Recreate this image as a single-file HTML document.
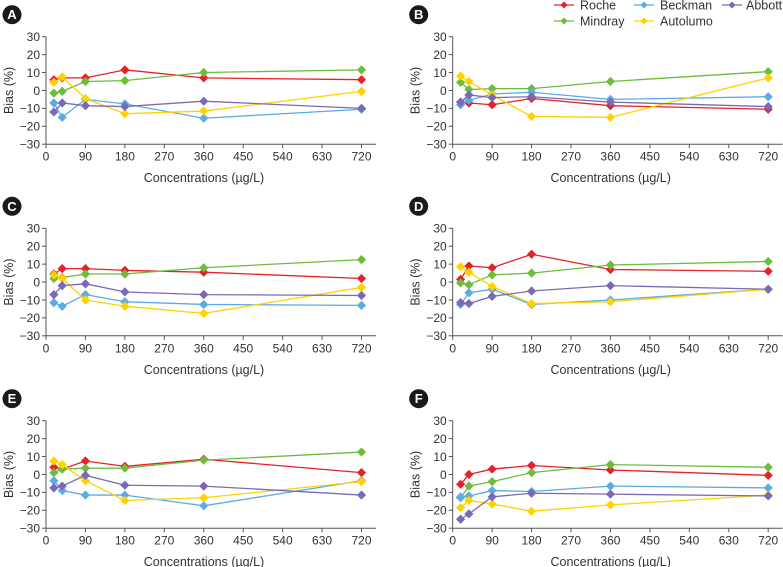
<!DOCTYPE html>
<html><head><meta charset="utf-8"><style>
html,body{margin:0;padding:0;background:#fff;}
svg{display:block;font-family:"Liberation Sans",Arial,sans-serif;}
</style></head><body>
<svg id="chart" width="783" height="567" viewBox="0 0 783 567" xmlns="http://www.w3.org/2000/svg"></svg>
<script>
const concentrations = [18, 37, 90, 180, 360, 720];
const xTicks = [0, 90, 180, 270, 360, 450, 540, 630, 720];
const yTicks = [30, 20, 10, 0, -10, -20, -30];
const seriesNames = ["Roche", "Mindray", "Beckman", "Autolumo", "Abbott"];
const seriesColors = ["#e8202a", "#6cbd3c", "#5cacE4", "#ffd200", "#7a6ab6"];
const panelLabels = ["A", "B", "C", "D", "E", "F"];
const rocheA = [6, 7, 7, 11.5, 7, 6];
const mindrayA = [-1.5, -0.5, 5, 5.5, 10, 11.5];
const beckmanA = [-7, -15, -5, -7.5, -15.5, -10.5];
const autolumoA = [4.5, 7.5, -4.5, -13, -11.5, -0.5];
const abbottA = [-12, -7, -8.5, -9, -6, -10];
const rocheB = [-6.5, -7, -8, -4.5, -8.5, -10.5];
const mindrayB = [4.5, 0.5, 1, 1, 5, 10.5];
const beckmanB = [-8, -5.5, -2, -1, -5, -3.5];
const autolumoB = [8, 5, -2.5, -14.5, -15, 7];
const abbottB = [-6.5, -2.5, -4, -3.5, -6.5, -9];
const rocheC = [4.5, 7.5, 7.5, 6.5, 5.5, 2];
const mindrayC = [2, 2.5, 4.5, 4.5, 8, 12.5];
const beckmanC = [-11.5, -13.5, -7, -11, -12.5, -13];
const autolumoC = [4, 2, -10, -13.5, -17.5, -3];
const abbottC = [-7, -2, -1, -5.5, -7, -7.5];
const rocheD = [1.5, 9, 8, 15.5, 7, 6];
const mindrayD = [-0.5, -1.5, 4, 5, 9.5, 11.5];
const beckmanD = [-12.5, -6, -4, -12.5, -10, -4];
const autolumoD = [8.5, 5.5, -2.5, -12, -11, -4];
const abbottD = [-11.5, -12, -8, -5, -2, -4];
const rocheE = [4, 3, 7.5, 4.5, 8.5, 1];
const mindrayE = [1, 3, 3.5, 3.5, 8, 12.5];
const beckmanE = [-3.5, -9, -11.5, -11.5, -17.5, -3.5];
const autolumoE = [7.5, 5.5, -3.5, -14.5, -13, -4];
const abbottE = [-7.5, -6.5, -0.5, -6, -6.5, -11.5];
const rocheF = [-5.5, 0, 3, 5, 2.5, -0.5];
const mindrayF = [-13, -6.5, -4, 1, 5.5, 4];
const beckmanF = [-12.5, -12, -9, -9.5, -6.5, -7.5];
const autolumoF = [-18.5, -14.5, -16.5, -20.5, -17, -11.5];
const abbottF = [-25, -22, -12.5, -10.5, -11, -12];
const panelData = [
  [rocheA, mindrayA, beckmanA, autolumoA, abbottA],
  [rocheB, mindrayB, beckmanB, autolumoB, abbottB],
  [rocheC, mindrayC, beckmanC, autolumoC, abbottC],
  [rocheD, mindrayD, beckmanD, autolumoD, abbottD],
  [rocheE, mindrayE, beckmanE, autolumoE, abbottE],
  [rocheF, mindrayF, beckmanF, autolumoF, abbottF]
];
const NS = "http://www.w3.org/2000/svg";
const svg = document.getElementById("chart");
function mk(tag, attrs, parent, text) {
  const e = document.createElementNS(NS, tag);
  for (const k in attrs) e.setAttribute(k, attrs[k]);
  if (text !== undefined) e.textContent = text;
  (parent || svg).appendChild(e);
  return e;
}
function diamond(g, x, y, c, r) {
  r = r || 4.6;
  return mk("polygon", {points: `${x},${y-r} ${x+r},${y} ${x},${y+r} ${x-r},${y}`, fill: c}, g);
}
const colX = [46, 452.7];
const rowY = [36.7, 228.3, 420.7];
const pw = 315.5, ph = 107.5;
panelData.forEach((data, i) => {
  const x0 = colX[i % 2], y0 = rowY[Math.floor(i / 2)];
  const xs = v => x0 + v / 720 * pw;
  const ys = v => y0 + (30 - v) / 60 * ph;
  const g = mk("g", {});
  
  
  const bx = x0 - 34, by = y0 - 22;
  const badge = mk("g", {}, g);
  
  
  mk("circle", {cx: bx, cy: by, r: 9.5, fill: "#1a1a1a"}, badge);
  mk("text", {x: bx, y: by + 4.5, "text-anchor": "middle", "font-size": 13, "font-weight": "bold", fill: "#fff"}, badge, panelLabels[i]);
  const axes = mk("g", {stroke: "#555", "stroke-width": 1}, g);
  
  
  mk("line", {x1: x0, y1: y0, x2: x0, y2: y0 + ph}, axes);
  mk("line", {x1: x0, y1: y0 + ph, x2: x0 + 330, y2: y0 + ph}, axes);
  yTicks.forEach(t => {
    mk("line", {x1: x0 - 4, y1: ys(t), x2: x0, y2: ys(t)}, axes);
    const tl = mk("text", {x: x0 - 6, y: ys(t) + 4.3, "text-anchor": "end", "font-size": 12, fill: "#333", stroke: "none"}, g, t < 0 ? "\u2212" + Math.abs(t) : String(t));
    
    
  });
  xTicks.forEach(t => {
    mk("line", {x1: xs(t), y1: y0 + ph, x2: xs(t), y2: y0 + ph + 4}, axes);
    const tl = mk("text", {x: xs(t), y: y0 + ph + 16.5, "text-anchor": "middle", "font-size": 12, fill: "#333"}, g, String(t));
    
    
  });
  const xt = mk("text", {x: x0 + 158, y: y0 + ph + 38, "text-anchor": "middle", "font-size": 12.5, fill: "#333"}, g, "Concentrations (\u00b5g/L)");
  
  
  const yc = y0 + ph / 2;
  const yt = mk("text", {x: x0 - 37, y: yc, "text-anchor": "middle", "font-size": 12.5, fill: "#333", transform: `rotate(-90 ${x0 - 37} ${yc})`, dy: 4}, g, "Bias (%)");
  
  
  data.forEach((vals, s) => {
    const sg = mk("g", {}, g);
    
    
    const pts = vals.map((v, k) => xs(concentrations[k]) + "," + ys(v)).join(" ");
    mk("polyline", {points: pts, fill: "none", stroke: seriesColors[s], "stroke-width": 1.3}, sg);
    vals.forEach((v, k) => {
      const p = diamond(sg, xs(concentrations[k]), ys(v), seriesColors[s]);
      
      
    });
  });
});
const legend = mk("g", {});


const legX = [554, 554, 634, 634, 722];
const legY = [5, 21, 5, 21, 5];
const legTX = [580, 580, 660, 660, 746];
seriesNames.forEach((n, s) => {
  const e = mk("g", {}, legend);
  
  
  mk("line", {x1: legX[s], y1: legY[s], x2: legX[s] + 20, y2: legY[s], stroke: seriesColors[s], "stroke-width": 1.3}, e);
  diamond(e, legX[s] + 10, legY[s], seriesColors[s], 3.5);
  mk("text", {x: legTX[s], y: legY[s] + 4.5, "font-size": 12.5, fill: "#333"}, e, n);
});
</script>
</body></html>
